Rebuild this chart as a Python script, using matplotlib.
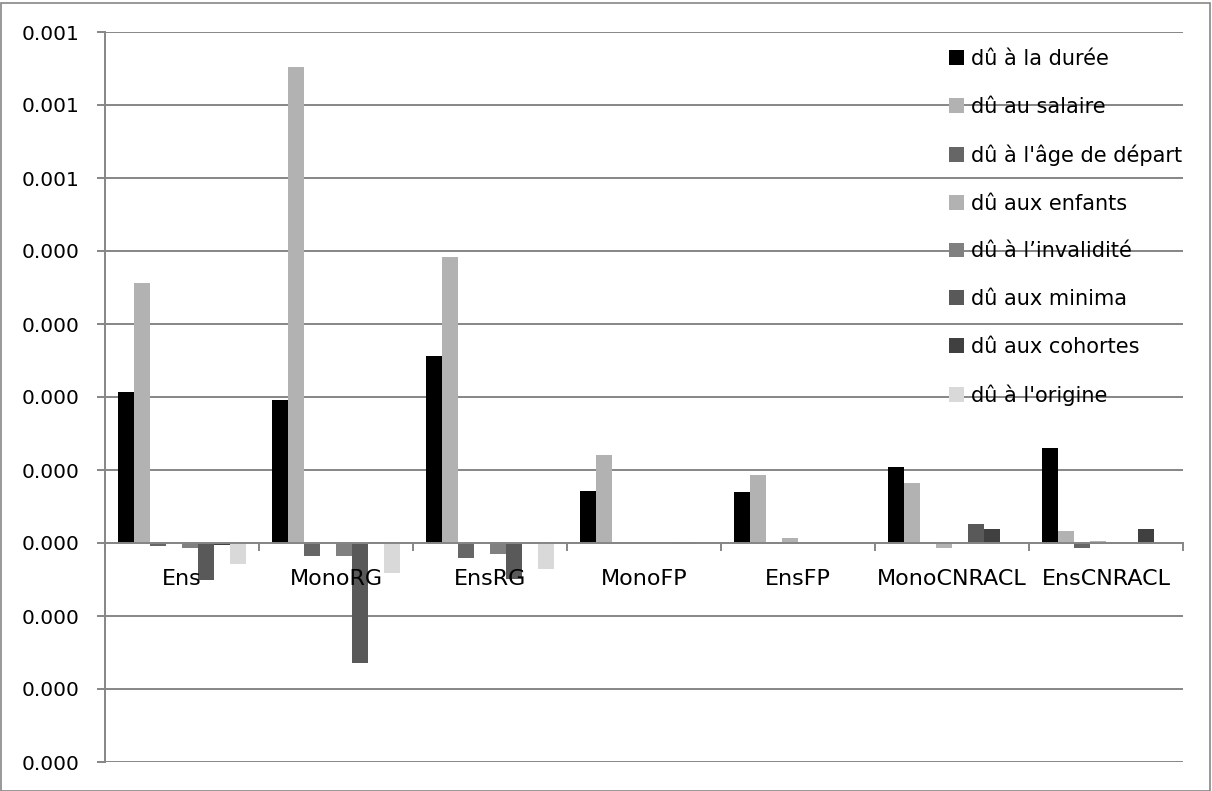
import matplotlib
matplotlib.use("Agg")
import matplotlib.pyplot as plt
import numpy as np
from matplotlib.patches import Rectangle
from matplotlib.ticker import FuncFormatter, MultipleLocator

CATEGORIES = ["Ens", "MonoRG", "EnsRG", "MonoFP", "EnsFP", "MonoCNRACL", "EnsCNRACL"]

SERIES = [
    "dû à la durée",
    "dû au salaire",
    "dû à l'âge de départ",
    "dû aux enfants",
    "dû à l’invalidité",
    "dû aux minima",
    "dû aux cohortes",
    "dû à l'origine",
]

duree = [0.000207, 0.000196, 0.000256, 0.0000712, 0.000070, 0.0001036, 0.000130]
salaire = [0.000356, 0.000652, 0.000392, 0.000120, 0.0000932, 0.0000816, 0.0000169]
age_depart = [-0.000004, -0.000018, -0.000021, 0.0, 0.000001, -0.000002, -0.000007]
enfants = [0.000002, 0.0, 0.0, 0.000001, 0.000007, -0.000007, 0.000003]
invalidite = [-0.000007, -0.000018, -0.0000145, 0.0, 0.0, 0.0, 0.0]
minima = [-0.000051, -0.000164, -0.000049, 0.0, 0.0, 0.0000255, 0.0]
cohortes = [-0.000003, 0.000002, -0.000002, -0.000001, 0.0, 0.0000186, 0.0000186]
origine = [-0.000029, -0.000041, -0.000035, 0.0, 0.0, 0.0, 0.0]

VALUES = [duree, salaire, age_depart, enfants, invalidite, minima, cohortes, origine]
COLORS = ["#000000", "#B2B2B2", "#666666", "#B2B2B2", "#808080", "#595959", "#404040", "#D9D9D9"]

GRID = "#868686"
W, H = 1212, 791

fig = plt.figure(figsize=(W / 100, H / 100), dpi=100)
fig.patches.append(Rectangle((0.5 / W, 0.5 / H), (W - 3) / W, (H - 3) / H,
                             transform=fig.transFigure, fill=False, edgecolor=GRID, lw=1.2))

ax = fig.add_axes([105 / W, 29 / H, 1078 / W, 730 / H])

x = np.arange(len(CATEGORIES)) + 0.5
bw = 16 / 154
for j, (name, vals, col) in enumerate(zip(SERIES, VALUES, COLORS)):
    ax.bar(x + (j - 3.5) * bw, vals, width=bw, color=col, label=name, zorder=3, linewidth=0)

ax.set_xlim(0, len(CATEGORIES))
ax.set_ylim(-0.0003, 0.0007)
ax.yaxis.set_major_locator(MultipleLocator(0.0001))
ax.yaxis.set_major_formatter(FuncFormatter(lambda v, _: f"{v:.3f}".replace("-", "")))
ax.yaxis.grid(True, color=GRID, lw=1.4, zorder=0)
ax.set_axisbelow(True)

for side in ["top", "right"]:
    ax.spines[side].set_visible(False)
ax.spines["left"].set_color(GRID)
ax.spines["left"].set_linewidth(1.4)
ax.spines["bottom"].set_position(("data", 0))
ax.spines["bottom"].set_color(GRID)
ax.spines["bottom"].set_linewidth(1.4)
ax.spines["bottom"].set_zorder(4)

ax.set_xticks(np.arange(len(CATEGORIES) + 1))
ax.set_xticklabels([])
ax.tick_params(axis="x", direction="out", length=5.5, width=1.4, color=GRID)
ax.tick_params(axis="y", direction="out", length=5.5, width=1.4, color=GRID,
               labelsize=14.5, pad=13)

for xi, cat in zip(x, CATEGORIES):
    ax.annotate(cat, (xi, 0), xytext=(0, -30), textcoords="offset points",
                ha="center", va="baseline", fontsize=16, zorder=5)

leg = ax.legend(loc="upper left", bbox_to_anchor=(949 / W, 1 - 49 / H),
                bbox_transform=fig.transFigure, frameon=False, fontsize=15,
                handlelength=0.7, handleheight=0.7, handletextpad=0.35,
                labelspacing=1.33, borderpad=0, borderaxespad=0)

fig.savefig("out.png", dpi=100)
